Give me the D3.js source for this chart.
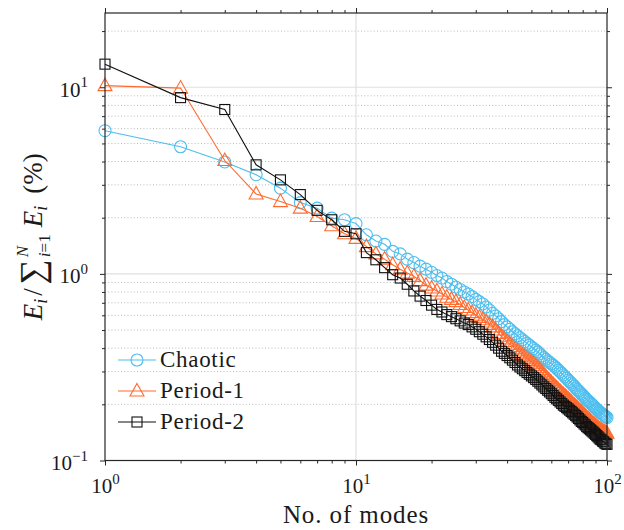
<!DOCTYPE html>
<html>
<head>
<meta charset="utf-8">
<script src="https://cdn.jsdelivr.net/npm/d3@7"></script>
<style>
  body { margin: 0; background: #fff; }
  svg { display: block; }
  text { font-family: "Liberation Serif", "Times New Roman", serif; fill: #1a1a1a; }
</style>
</head>
<body>
<div id="chart"></div>
<script>
// mode number 1..100
var modes = d3.range(1, 101);

// energy share (%) per mode
var chaotic = [
  5.85, 4.8, 3.98, 3.4, 2.88, 2.41, 2.25, 1.99, 1.95, 1.86,
  1.62, 1.50, 1.44, 1.32, 1.28, 1.20, 1.15, 1.10, 1.06, 1.02,
  0.98, 0.95, 0.91, 0.88, 0.85, 0.825, 0.80, 0.78, 0.755, 0.73,
  0.71, 0.69, 0.665, 0.64, 0.615, 0.595, 0.575, 0.555, 0.535, 0.52,
  0.505, 0.49, 0.478, 0.466, 0.455, 0.444, 0.434, 0.424, 0.415, 0.406,
  0.398, 0.39, 0.382, 0.373, 0.364, 0.356, 0.349, 0.342, 0.336, 0.33,
  0.324, 0.318, 0.312, 0.305, 0.299, 0.293, 0.287, 0.281, 0.276, 0.27,
  0.265, 0.26, 0.255, 0.25, 0.245, 0.24, 0.236, 0.232, 0.228, 0.224,
  0.22, 0.216, 0.212, 0.209, 0.206, 0.203, 0.2, 0.197, 0.194, 0.191,
  0.188, 0.186, 0.183, 0.181, 0.179, 0.177, 0.175, 0.173, 0.172, 0.17
];
var period1 = [
  10.2, 9.9, 4.05, 2.68, 2.44, 2.25, 2.03, 1.81, 1.64, 1.55,
  1.40, 1.28, 1.20, 1.12, 1.06, 1.01, 0.97, 0.92, 0.87, 0.84,
  0.81, 0.78, 0.75, 0.73, 0.71, 0.685, 0.66, 0.64, 0.62, 0.60,
  0.585, 0.568, 0.552, 0.536, 0.52, 0.50, 0.48, 0.463, 0.448, 0.434,
  0.42, 0.408, 0.397, 0.386, 0.376, 0.367, 0.359, 0.351, 0.344, 0.337,
  0.33, 0.322, 0.314, 0.306, 0.298, 0.29, 0.282, 0.275, 0.268, 0.262,
  0.256, 0.25, 0.245, 0.24, 0.235, 0.23, 0.226, 0.222, 0.218, 0.214,
  0.21, 0.206, 0.202, 0.198, 0.195, 0.192, 0.188, 0.185, 0.182, 0.179,
  0.176, 0.173, 0.17, 0.168, 0.165, 0.163, 0.16, 0.158, 0.156, 0.154,
  0.152, 0.15, 0.148, 0.147, 0.145, 0.144, 0.143, 0.142, 0.141, 0.14
];
var period2 = [
  13.3, 8.8, 7.6, 3.84, 3.19, 2.66, 2.19, 1.95, 1.69, 1.64,
  1.30, 1.19, 1.08, 0.99, 0.95, 0.88, 0.81, 0.76, 0.72, 0.68,
  0.645, 0.625, 0.605, 0.59, 0.575, 0.56, 0.545, 0.535, 0.52, 0.505,
  0.49, 0.475, 0.46, 0.445, 0.43, 0.415, 0.40, 0.385, 0.375, 0.365,
  0.355, 0.345, 0.335, 0.325, 0.317, 0.31, 0.303, 0.296, 0.29, 0.284,
  0.278, 0.272, 0.266, 0.26, 0.254, 0.248, 0.243, 0.238, 0.233, 0.228,
  0.223, 0.218, 0.214, 0.21, 0.206, 0.202, 0.198, 0.195, 0.192, 0.189,
  0.186, 0.183, 0.18, 0.177, 0.174, 0.171, 0.168, 0.165, 0.162, 0.16,
  0.157, 0.155, 0.152, 0.15, 0.148, 0.146, 0.144, 0.142, 0.14, 0.138,
  0.136, 0.134, 0.132, 0.13, 0.129, 0.127, 0.126, 0.124, 0.123, 0.122
];

var seriesNames = ["Chaotic", "Period-1", "Period-2"];

// tick values
var xMajor = [1, 10, 100];
var xMinor = [2, 3, 4, 5, 6, 7, 8, 9, 20, 30, 40, 50, 60, 70, 80, 90];
var yMajor = [0.1, 1, 10];
var yMinor = [0.2, 0.3, 0.4, 0.5, 0.6, 0.7, 0.8, 0.9, 2, 3, 4, 5, 6, 7, 8, 9, 20];

var W = 624, H = 530;
var plotL = 105, plotR = 607, plotT = 13, plotB = 460.5;

var svg = d3.select("#chart").append("svg")
  .attr("width", W).attr("height", H);

var x = d3.scaleLog().domain([1, 100]).range([plotL, plotR]);
var y = d3.scaleLog().domain([0.1, 25]).range([plotB, plotT]);

// grid
var grid = svg.append("g");
grid.selectAll(".ymin").data(yMinor).enter().append("line")
  .attr("x1", plotL).attr("x2", plotR)
  .attr("y1", function(d) { return y(d); }).attr("y2", function(d) { return y(d); })
  .attr("stroke", "#b8b8b8").attr("stroke-width", 1)
  .attr("stroke-dasharray", "1,2.2");
grid.selectAll(".ymaj").data([1, 10]).enter().append("line")
  .attr("x1", plotL).attr("x2", plotR)
  .attr("y1", function(d) { return y(d); }).attr("y2", function(d) { return y(d); })
  .attr("stroke", "#e0e0e0").attr("stroke-width", 1.2);
grid.selectAll(".xmaj").data([10]).enter().append("line")
  .attr("y1", plotT).attr("y2", plotB)
  .attr("x1", function(d) { return x(d); }).attr("x2", function(d) { return x(d); })
  .attr("stroke", "#e0e0e0").attr("stroke-width", 1.2);

// series
var colors = ["#4DBEEE", "#FF6A2E", "#111111"];
var allSeries = [chaotic, period1, period2];

function marker(sel, kind, color) {
  if (kind === 0) {
    sel.append("circle").attr("r", 6)
      .attr("fill", "none").attr("stroke", color).attr("stroke-width", 1.1);
  } else if (kind === 1) {
    sel.append("path").attr("d", "M0,-7.5L7,5L-7,5Z")
      .attr("fill", "none").attr("stroke", color).attr("stroke-width", 1.1);
  } else {
    sel.append("rect").attr("x", -5).attr("y", -5).attr("width", 10).attr("height", 10)
      .attr("fill", "none").attr("stroke", color).attr("stroke-width", 1.1);
  }
}

var line = d3.line()
  .x(function(d, i) { return x(modes[i]); })
  .y(function(d) { return y(d); });

allSeries.forEach(function(vals, k) {
  var g = svg.append("g");
  g.append("path").datum(vals)
    .attr("d", line)
    .attr("fill", "none").attr("stroke", colors[k]).attr("stroke-width", 1.1);
  g.selectAll("g.m").data(vals).enter().append("g")
    .attr("transform", function(d, i) { return "translate(" + x(modes[i]) + "," + y(d) + ")"; })
    .each(function() { marker(d3.select(this), k, colors[k]); });
});

// axes
function styleAxis(g) {
  g.select(".domain").remove();
  g.selectAll("line").attr("stroke", "#262626").attr("stroke-width", 1);
}
function sup10(sel) {
  sel.each(function(d) {
    var t = d3.select(this);
    var e = Math.round(Math.log10(d));
    t.text("10");
    t.append("tspan").attr("dy", "-0.62em").attr("font-size", "15px")
      .text(e < 0 ? "\u2212" + (-e) : e);
  });
}

var bx = svg.append("g").attr("transform", "translate(0," + plotB + ")")
  .call(d3.axisBottom(x).tickValues(xMajor).tickSize(5).tickSizeOuter(0).tickPadding(9))
  .call(styleAxis);
bx.selectAll("text").attr("font-size", "21px").attr("dy", "0.9em").call(sup10);
svg.append("g").attr("transform", "translate(0," + plotB + ")")
  .call(d3.axisBottom(x).tickValues(xMinor).tickSize(3).tickSizeOuter(0).tickFormat(""))
  .call(styleAxis);
svg.append("g").attr("transform", "translate(0," + plotT + ")")
  .call(d3.axisTop(x).tickValues(xMajor).tickSize(5).tickSizeOuter(0).tickFormat(""))
  .call(styleAxis);
svg.append("g").attr("transform", "translate(0," + plotT + ")")
  .call(d3.axisTop(x).tickValues(xMinor).tickSize(3).tickSizeOuter(0).tickFormat(""))
  .call(styleAxis);

var ly = svg.append("g").attr("transform", "translate(" + plotL + ",0)")
  .call(d3.axisLeft(y).tickValues(yMajor).tickSize(5).tickSizeOuter(0).tickPadding(12))
  .call(styleAxis);
ly.selectAll("text").attr("font-size", "21px").attr("dy", "0.42em").call(sup10);
svg.append("g").attr("transform", "translate(" + plotL + ",0)")
  .call(d3.axisLeft(y).tickValues(yMinor).tickSize(3).tickSizeOuter(0).tickFormat(""))
  .call(styleAxis);
svg.append("g").attr("transform", "translate(" + plotR + ",0)")
  .call(d3.axisRight(y).tickValues(yMajor).tickSize(5).tickSizeOuter(0).tickFormat(""))
  .call(styleAxis);
svg.append("g").attr("transform", "translate(" + plotR + ",0)")
  .call(d3.axisRight(y).tickValues(yMinor).tickSize(3).tickSizeOuter(0).tickFormat(""))
  .call(styleAxis);

// box
svg.append("rect")
  .attr("x", plotL).attr("y", plotT)
  .attr("width", plotR - plotL).attr("height", plotB - plotT)
  .attr("fill", "none").attr("stroke", "#262626").attr("stroke-width", 1.2);

// x label
svg.append("text")
  .attr("x", (plotL + plotR) / 2).attr("y", 523)
  .attr("text-anchor", "middle")
  .attr("font-size", "25px").attr("letter-spacing", "0.9px")
  .text("No. of modes");

// y label (rotated)
var yl = svg.append("text")
  .attr("transform", "translate(42," + ((plotT + plotB) / 2) + ") rotate(-90)")
  .attr("text-anchor", "middle")
  .attr("font-size", "27px");
function measure(str, size, italic) {
  var t = svg.append("text").attr("font-size", size + "px")
    .attr("font-style", italic ? "italic" : "normal").text(str);
  var w = t.node().getComputedTextLength();
  t.remove();
  return w;
}
var wLow = measure("i=1", 17, false), wUp = measure("N", 17, true);
yl.append("tspan").attr("font-style", "italic").text("E");
yl.append("tspan").attr("font-style", "italic").attr("font-size", "18px").attr("dy", 5).text("i");
yl.append("tspan").attr("dy", -5).attr("dx", 3).text("/");
yl.append("tspan").attr("dx", 4).attr("font-size", "35px").attr("dy", 2).text("\u2211");
var low = yl.append("tspan").attr("font-size", "17px").attr("dx", 2).attr("dy", 6);
low.append("tspan").attr("font-style", "italic").text("i");
low.append("tspan").text("=1");
yl.append("tspan").attr("font-size", "17px").attr("font-style", "italic")
  .attr("dx", -wLow).attr("dy", -22).text("N");
yl.append("tspan").attr("font-style", "italic")
  .attr("dx", wLow - wUp + 7).attr("dy", 14).text("E");
yl.append("tspan").attr("font-style", "italic").attr("font-size", "18px").attr("dy", 5).text("i");
yl.append("tspan").attr("dy", -5).attr("dx", 12).text("(%)");

// legend
var leg = svg.append("g");
seriesNames.forEach(function(name, k) {
  var cy = 360 + k * 31;
  leg.append("line").attr("x1", 118).attr("x2", 156).attr("y1", cy).attr("y2", cy)
    .attr("stroke", colors[k]).attr("stroke-width", 1.1);
  var m = leg.append("g").attr("transform", "translate(137," + cy + ")");
  marker(m, k, colors[k]);
  leg.append("text").attr("x", 160).attr("y", cy + 7)
    .attr("font-size", "23px").attr("letter-spacing", "0.7px").text(name);
});
</script>
</body>
</html>
